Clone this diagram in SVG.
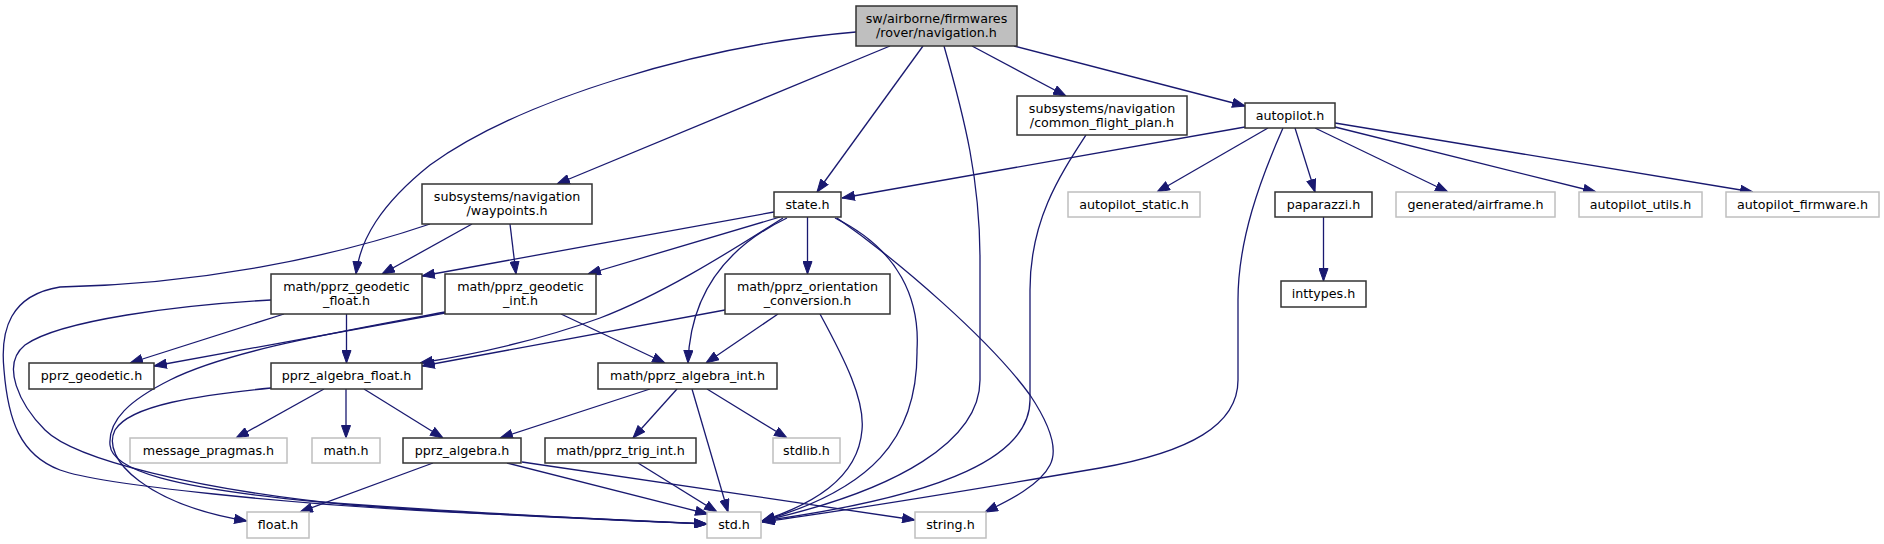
<svg xmlns="http://www.w3.org/2000/svg" width="1884" height="544" viewBox="0 0 1884 544">
<style>
.n rect{fill:#fff;stroke:#333;stroke-width:1.5}
.n.g rect{stroke:#bfbfbf}
.n.m rect{fill:#bfbfbf}
text{font-family:"DejaVu Sans",sans-serif;font-size:12.7px;text-anchor:middle;fill:#000}
#edges path{fill:none;stroke:#191970;stroke-width:1.3;marker-end:url(#a)}
</style>
<defs>
<marker id="a" markerWidth="13" markerHeight="10" refX="13" refY="5" orient="auto" markerUnits="userSpaceOnUse"><path d="M0.5,0.5 L13,5 L0.5,9.5 z" fill="#191970" stroke="#191970" stroke-width="1"/></marker>
</defs>
<rect width="1884" height="544" fill="#fff"/>
<g id="edges">
<path d="M856,32 C700,45 520,100 430,165 C380,205 360,240 356,274"/>
<path d="M890,46 L557,184"/>
<path d="M923,46 L817,192"/>
<path d="M944,46 C965,120 980,180 980,260 L980,380 C980,440 900,490 762,521"/>
<path d="M972,46 L1066,96"/>
<path d="M1014,46 L1245,106"/>
<path d="M1086,135 C1060,175 1030,220 1030,290 L1030,400 C1030,455 950,495 762,521"/>
<path d="M1245,127 L842,198"/>
<path d="M1268,128 L1157,192"/>
<path d="M1283,128 C1260,180 1238,240 1238,300 L1238,380 C1238,425 1190,452 1100,468 C1000,485 850,510 762,522"/>
<path d="M1295,128 L1315,192"/>
<path d="M1315,128 L1448,192"/>
<path d="M1335,127 L1596,192"/>
<path d="M1335,123 L1753,192"/>
<path d="M1323.5,217 L1323.5,281"/>
<path d="M430,224 C330,258 200,284 60,287 C10,295 0,330 4,370 C8,420 20,455 60,470 C100,485 300,505 450,512 C580,518 650,521 707,524"/>
<path d="M271,300 C180,305 60,320 25,345 C0,365 20,405 45,430 C75,460 200,490 350,505 C500,516 640,521 707,524"/>
<path d="M445,312 C340,332 230,350 170,380 C130,400 108,420 110,445 C112,470 170,488 320,502 C480,514 640,521 707,524"/>
<path d="M271,388 C200,395 130,405 115,430 C100,460 150,505 247,521"/>
<path d="M284,314 L130,363"/>
<path d="M445,313 L154,366"/>
<path d="M346.5,314 L346.5,363"/>
<path d="M472,224 L382,274"/>
<path d="M510,224 L516,274"/>
<path d="M561,314 L665,363"/>
<path d="M774,212 L422,276"/>
<path d="M780,217 L588,274"/>
<path d="M783,218 C720,258 660,295 600,318 C540,340 470,355 420,363"/>
<path d="M787,218 C720,250 690,300 688,363"/>
<path d="M807.5,217 L807.5,274"/>
<path d="M835,218 C900,250 920,300 917,350 C918,440 870,490 762,521"/>
<path d="M837,218 C900,262 990,340 1030,395 C1050,425 1058,450 1050,465 C1040,485 1010,500 985,512"/>
<path d="M725,310 L422,366"/>
<path d="M778,314 L706,363"/>
<path d="M820,314 C845,360 865,400 862,430 C858,480 810,505 762,521"/>
<path d="M324,389 L236,438"/>
<path d="M346,389 L346,438"/>
<path d="M364,389 L443,438"/>
<path d="M650,389 L500,438"/>
<path d="M677,389 L633,438"/>
<path d="M692,389 L728,512"/>
<path d="M707,389 L787,438"/>
<path d="M433,463 L300,512"/>
<path d="M507,463 L708,514"/>
<path d="M522,462 L915,520"/>
<path d="M638,463 L717,512"/>
</g>
<g id="navigation" class="n m"><rect x="856" y="6" width="161" height="40"/><text x="936.5" y="23">sw/airborne/firmwares</text><text x="936.5" y="37">/rover/navigation.h</text></g>
<g id="waypoints" class="n"><rect x="422" y="184" width="170" height="40"/><text x="507" y="201">subsystems/navigation</text><text x="507" y="215">/waypoints.h</text></g>
<g id="geodetic_float" class="n"><rect x="271" y="274" width="151" height="40"/><text x="346.5" y="291">math/pprz_geodetic</text><text x="346.5" y="305">_float.h</text></g>
<g id="geodetic_int" class="n"><rect x="445" y="274" width="151" height="40"/><text x="520.5" y="291">math/pprz_geodetic</text><text x="520.5" y="305">_int.h</text></g>
<g id="state" class="n"><rect x="774" y="192" width="67" height="25"/><text x="807.5" y="208.5">state.h</text></g>
<g id="orientation" class="n"><rect x="725" y="274" width="165" height="40"/><text x="807.5" y="291">math/pprz_orientation</text><text x="807.5" y="305">_conversion.h</text></g>
<g id="pprz_geodetic" class="n"><rect x="29" y="363" width="125" height="26"/><text x="91.5" y="380">pprz_geodetic.h</text></g>
<g id="algebra_float" class="n"><rect x="271" y="363" width="151" height="26"/><text x="346.5" y="380">pprz_algebra_float.h</text></g>
<g id="algebra_int" class="n"><rect x="598" y="363" width="179" height="26"/><text x="687.5" y="380">math/pprz_algebra_int.h</text></g>
<g id="message_pragmas" class="n g"><rect x="130" y="438" width="157" height="25"/><text x="208.5" y="454.5">message_pragmas.h</text></g>
<g id="math" class="n g"><rect x="312" y="438" width="68" height="25"/><text x="346" y="454.5">math.h</text></g>
<g id="pprz_algebra" class="n"><rect x="403" y="438" width="118" height="25"/><text x="462" y="454.5">pprz_algebra.h</text></g>
<g id="trig_int" class="n"><rect x="545" y="438" width="151" height="25"/><text x="620.5" y="454.5">math/pprz_trig_int.h</text></g>
<g id="stdlib" class="n g"><rect x="773" y="438" width="67" height="25"/><text x="806.5" y="454.5">stdlib.h</text></g>
<g id="float" class="n g"><rect x="247" y="512" width="62" height="26"/><text x="278" y="529">float.h</text></g>
<g id="std" class="n g"><rect x="707" y="512" width="54" height="26"/><text x="734" y="529">std.h</text></g>
<g id="string" class="n g"><rect x="915" y="512" width="71" height="26"/><text x="950.5" y="529">string.h</text></g>
<g id="common_flight_plan" class="n"><rect x="1017" y="96" width="170" height="39"/><text x="1102" y="113">subsystems/navigation</text><text x="1102" y="127">/common_flight_plan.h</text></g>
<g id="autopilot" class="n"><rect x="1245" y="103" width="90" height="25"/><text x="1290" y="119.5">autopilot.h</text></g>
<g id="autopilot_static" class="n g"><rect x="1068" y="192" width="132" height="25"/><text x="1134" y="208.5">autopilot_static.h</text></g>
<g id="paparazzi" class="n"><rect x="1275" y="192" width="97" height="25"/><text x="1323.5" y="208.5">paparazzi.h</text></g>
<g id="airframe" class="n g"><rect x="1396" y="192" width="159" height="25"/><text x="1475.5" y="208.5">generated/airframe.h</text></g>
<g id="autopilot_utils" class="n g"><rect x="1579" y="192" width="123" height="25"/><text x="1640.5" y="208.5">autopilot_utils.h</text></g>
<g id="autopilot_firmware" class="n g"><rect x="1726" y="192" width="153" height="25"/><text x="1802.5" y="208.5">autopilot_firmware.h</text></g>
<g id="inttypes" class="n"><rect x="1281" y="281" width="85" height="26"/><text x="1323.5" y="298">inttypes.h</text></g>
</svg>
